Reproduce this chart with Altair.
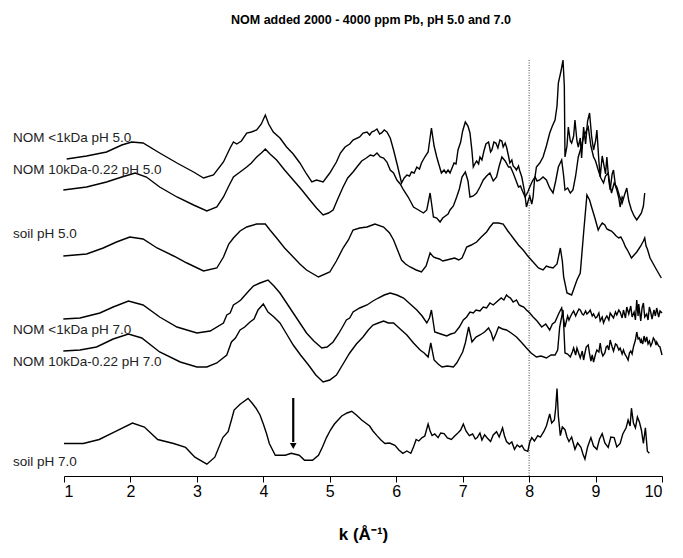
import altair as alt
import pandas as pd

# ---- data (k in 1/Å, offset chi(k) in arbitrary units) ----
nom1_ph5 = [(1.04,31.7),(1.34,32.0),(1.64,32.4),(1.87,33.1),(2.02,33.4),(2.19,33.3),(2.44,32.3),(2.70,31.3),(2.95,30.4),(3.10,29.8),(3.25,30.1),(3.40,31.4),(3.50,32.8),(3.55,33.4),(3.60,33.2),(3.67,33.5),(3.75,34.3),(3.82,34.4),(3.90,34.6),(3.97,35.2),(4.03,36.1),(4.08,35.2),(4.15,34.4),(4.25,33.8),(4.35,32.9),(4.45,32.2),(4.55,31.3),(4.65,30.2),(4.73,29.4),(4.80,29.6),(4.90,29.4),(5.00,30.3),(5.10,31.4),(5.16,32.3),(5.23,32.9),(5.30,33.2),(5.35,33.6),(5.45,33.9),(5.50,34.3),(5.56,34.4),(5.60,34.1),(5.63,34.4),(5.67,34.5),(5.71,34.7),(5.75,34.2),(5.78,34.3),(5.82,34.6),(5.86,34.4),(5.91,33.8),(5.96,32.6),(6.02,31.0),(6.08,29.3),(6.12,29.8),(6.16,30.1),(6.20,30.0),(6.23,30.4),(6.27,30.3),(6.31,30.9),(6.35,30.7),(6.38,31.3),(6.43,31.9),(6.48,32.4),(6.53,34.8),(6.57,33.0),(6.61,31.9),(6.64,31.2),(6.68,30.3),(6.72,30.6),(6.75,30.3),(6.78,30.6),(6.81,30.3),(6.87,31.3),(6.90,31.2),(6.93,32.6),(6.97,33.4),(7.00,34.5),(7.04,35.4),(7.08,35.0),(7.11,34.3),(7.14,32.5),(7.16,30.9),(7.19,31.3),(7.21,31.5),(7.24,31.2),(7.26,31.9),(7.29,31.6),(7.32,32.5),(7.35,33.2),(7.39,33.4),(7.42,32.4),(7.44,32.6),(7.47,33.4),(7.50,33.3),(7.53,32.8),(7.56,33.6),(7.59,33.5),(7.61,32.9),(7.64,33.3),(7.66,32.9),(7.69,32.0),(7.71,31.3),(7.74,31.6),(7.76,31.0),(7.79,30.8),(7.81,30.6),(7.84,31.0),(7.86,30.5),(7.89,29.9),(7.93,28.5),(7.96,26.9),(7.99,27.6),(8.01,28.0),(8.04,27.2),(8.06,27.9),(8.08,29.5),(8.11,30.9),(8.16,31.3),(8.21,31.9),(8.26,33.0),(8.31,34.3),(8.35,35.0),(8.39,35.6),(8.42,37.0),(8.44,39.3),(8.48,40.5),(8.51,41.6),(8.53,39.0),(8.54,31.9),(8.57,33.0),(8.59,34.9),(8.62,33.5),(8.64,33.3),(8.67,34.0),(8.69,35.6),(8.72,33.5),(8.74,32.9),(8.77,33.8),(8.79,31.8),(8.82,34.9),(8.85,33.2),(8.88,35.5),(8.91,36.3),(8.94,34.0),(8.97,32.6),(9.00,33.5),(9.02,34.6),(9.05,31.5),(9.07,29.9),(9.10,32.0),(9.12,31.3),(9.15,30.2),(9.17,31.9),(9.20,29.5),(9.22,28.6),(9.25,30.2),(9.27,30.6),(9.30,29.0),(9.32,28.6),(9.35,27.8),(9.37,26.9),(9.40,27.9),(9.42,27.7)]

nom10_ph5 = [(0.99,28.6),(1.34,28.9),(1.64,29.4),(1.87,29.9),(2.07,30.3),(2.24,29.9),(2.44,28.9),(2.70,27.9),(2.95,27.1),(3.15,26.5),(3.30,26.9),(3.40,27.9),(3.48,29.0),(3.55,29.9),(3.65,30.4),(3.75,30.9),(3.82,31.3),(3.90,31.9),(3.97,32.3),(4.03,32.7),(4.10,32.2),(4.20,31.6),(4.32,30.6),(4.45,29.6),(4.58,28.6),(4.70,27.6),(4.80,26.8),(4.90,26.1),(4.98,26.3),(5.05,26.6),(5.12,27.7),(5.20,28.9),(5.27,29.8),(5.35,30.4),(5.42,31.0),(5.48,31.5),(5.55,31.8),(5.61,32.1),(5.66,32.0),(5.71,32.3),(5.76,31.9),(5.81,31.8),(5.86,31.4),(5.91,30.6),(5.96,30.3),(6.01,29.6),(6.06,29.2),(6.11,28.6),(6.18,27.9),(6.26,26.9),(6.31,26.7),(6.36,26.5),(6.41,26.3),(6.46,26.6),(6.51,28.3),(6.56,25.9),(6.61,25.8),(6.66,25.4),(6.70,25.8),(6.74,26.0),(6.78,26.2),(6.81,26.6),(6.86,27.0),(6.91,27.9),(6.95,28.7),(6.99,29.9),(7.04,30.4),(7.08,29.5),(7.11,27.9),(7.16,28.0),(7.21,28.3),(7.26,28.9),(7.31,29.6),(7.36,30.0),(7.41,30.3),(7.46,29.5),(7.51,29.9),(7.55,31.0),(7.59,31.9),(7.64,31.5),(7.69,30.9),(7.72,30.9),(7.76,30.3),(7.80,29.6),(7.84,28.9),(7.87,29.0),(7.90,28.5),(7.94,27.9),(7.98,28.4),(8.01,28.9),(8.05,29.5),(8.09,29.9),(8.12,29.5),(8.16,29.6),(8.21,29.9),(8.26,29.6),(8.31,28.8),(8.36,28.3),(8.40,29.5),(8.44,30.9),(8.49,31.6),(8.52,30.0),(8.54,28.6),(8.58,28.8),(8.62,28.3),(8.66,28.6),(8.70,30.0),(8.74,31.9),(8.78,32.8),(8.82,33.9),(8.86,34.5),(8.89,34.9),(8.93,33.0),(8.97,31.9),(9.00,31.5),(9.04,30.6),(9.08,29.8),(9.12,29.3),(9.15,30.0),(9.19,30.3),(9.22,29.0),(9.24,28.3),(9.28,29.3),(9.32,28.9),(9.36,28.0),(9.40,27.3),(9.44,28.2),(9.47,28.8),(9.50,27.5),(9.54,26.6),(9.58,26.0),(9.62,25.6),(9.66,26.0),(9.69,26.3),(9.72,27.0),(9.74,28.3)]

soil_ph5 = [(0.99,22.0),(1.34,22.2),(1.59,22.8),(1.79,23.4),(1.99,23.9),(2.19,23.7),(2.40,22.8),(2.65,22.0),(2.85,21.3),(3.10,20.5),(3.30,20.8),(3.40,21.9),(3.48,23.2),(3.55,23.8),(3.65,24.5),(3.75,24.9),(3.90,25.2),(4.03,25.2),(4.10,24.6),(4.20,23.8),(4.32,22.8),(4.45,21.9),(4.55,21.2),(4.65,20.6),(4.83,19.9),(5.00,20.4),(5.10,21.5),(5.20,22.8),(5.28,23.6),(5.35,24.6),(5.45,24.8),(5.56,24.9),(5.68,25.2),(5.81,24.9),(5.90,24.3),(5.96,23.6),(6.02,22.6),(6.08,21.6),(6.14,21.2),(6.21,20.9),(6.30,20.6),(6.38,20.4),(6.45,21.0),(6.51,22.3),(6.56,21.9),(6.60,21.8),(6.65,21.7),(6.70,21.5),(6.76,21.6),(6.82,21.7),(6.88,21.8),(6.94,21.6),(6.99,21.8),(7.03,22.4),(7.06,22.9),(7.13,23.1),(7.21,23.4),(7.28,23.9),(7.36,24.4),(7.41,24.9),(7.46,25.3),(7.54,25.3),(7.61,25.2),(7.68,24.5),(7.76,23.8),(7.84,23.1),(7.91,22.6),(7.98,22.0),(8.06,21.4),(8.14,20.8),(8.21,20.6),(8.26,21.0),(8.30,20.9),(8.36,20.8),(8.42,21.2),(8.47,22.8),(8.50,21.5),(8.52,19.9),(8.57,18.3),(8.64,18.1),(8.72,19.6),(8.77,20.3),(8.82,24.3),(8.87,28.1),(8.91,27.6),(8.94,26.9),(8.99,25.8),(9.04,24.6),(9.07,25.0),(9.10,25.3),(9.14,25.1),(9.17,24.7),(9.20,24.6),(9.24,24.5),(9.27,24.3),(9.31,24.0),(9.35,23.8),(9.38,23.9),(9.42,23.4),(9.45,22.9),(9.48,22.6),(9.51,22.2),(9.54,21.8),(9.58,22.1),(9.62,22.4),(9.65,22.7),(9.68,23.0),(9.72,23.5),(9.74,23.8),(9.76,23.0),(9.78,22.7),(9.82,21.8),(9.87,21.2),(9.92,20.6),(9.99,19.8)]

nom1_ph7 = [(0.99,15.7),(1.24,15.8),(1.54,16.3),(1.74,16.9),(1.97,17.5),(2.19,17.1),(2.44,15.9),(2.70,14.9),(3.00,14.3),(3.20,14.5),(3.40,15.3),(3.45,16.1),(3.50,16.3),(3.55,17.1),(3.62,17.4),(3.66,17.6),(3.70,17.9),(3.78,18.5),(3.85,19.0),(3.95,19.3),(4.07,19.6),(4.16,19.0),(4.25,18.3),(4.35,17.3),(4.45,16.3),(4.55,15.3),(4.65,14.3),(4.76,13.5),(4.88,12.8),(4.96,12.9),(5.05,13.4),(5.13,14.2),(5.20,15.0),(5.25,15.6),(5.30,15.8),(5.35,16.4),(5.45,16.8),(5.56,17.1),(5.65,17.5),(5.73,17.8),(5.82,18.1),(5.91,18.3),(6.01,18.1),(6.11,17.8),(6.21,17.2),(6.31,16.6),(6.39,16.0),(6.46,15.3),(6.50,15.8),(6.53,16.6),(6.58,14.4),(6.67,14.2),(6.76,14.0),(6.82,14.2),(6.88,14.3),(6.95,14.9),(7.01,15.6),(7.06,15.9),(7.11,16.4),(7.16,16.3),(7.20,16.6),(7.26,16.5),(7.31,16.9),(7.36,16.8),(7.41,17.3),(7.46,17.1),(7.51,17.4),(7.58,17.8),(7.62,17.6),(7.66,18.1),(7.69,17.9),(7.72,17.8),(7.76,17.4),(7.81,17.6),(7.85,17.1),(7.88,17.0),(7.92,16.9),(7.96,16.6),(8.01,16.3),(8.06,15.9),(8.12,15.5),(8.19,14.9),(8.25,15.2),(8.31,14.6),(8.35,15.2),(8.39,15.4),(8.45,16.3),(8.49,16.8),(8.52,15.6),(8.54,14.9),(8.58,16.0),(8.60,15.6),(8.62,15.9),(8.65,16.3),(8.67,16.5),(8.70,16.0),(8.72,16.3),(8.75,16.7),(8.77,16.6),(8.80,16.2),(8.82,16.1),(8.85,16.5),(8.87,16.2),(8.90,16.4),(8.92,16.6),(8.95,16.0),(8.97,16.2),(9.00,15.8),(9.02,15.9),(9.05,16.3),(9.07,15.5),(9.10,15.9),(9.12,15.3),(9.15,15.8),(9.17,16.0),(9.20,15.6),(9.22,16.3),(9.25,16.0),(9.27,15.8),(9.30,16.4),(9.32,16.1),(9.35,16.6),(9.37,16.4),(9.40,15.8),(9.42,16.6),(9.45,15.8),(9.47,16.9),(9.50,16.2),(9.53,17.0),(9.55,15.9),(9.58,16.4),(9.60,15.6),(9.62,17.6),(9.64,16.0),(9.65,17.2),(9.68,15.5),(9.70,16.8),(9.72,17.3),(9.74,15.9),(9.77,16.2),(9.79,15.6),(9.81,16.9),(9.83,16.4),(9.85,15.7),(9.88,16.6),(9.90,16.0),(9.92,16.8),(9.95,15.9),(9.97,16.5),(10.0,16.3)]

nom10_ph7 = [(0.99,12.5),(1.24,12.6),(1.49,12.9),(1.74,13.7),(1.97,14.2),(2.17,13.8),(2.44,12.4),(2.75,11.4),(3.00,10.9),(3.15,10.9),(3.30,11.3),(3.45,12.1),(3.52,13.4),(3.58,13.8),(3.65,14.6),(3.72,14.9),(3.80,15.4),(3.86,15.7),(3.92,16.6),(4.00,17.2),(4.07,16.4),(4.16,15.9),(4.25,15.3),(4.35,14.2),(4.45,13.1),(4.56,12.1),(4.68,11.1),(4.79,10.1),(4.90,9.4),(5.00,9.6),(5.10,10.1),(5.20,11.2),(5.30,12.3),(5.40,13.2),(5.50,13.9),(5.58,14.6),(5.65,15.1),(5.73,15.3),(5.81,15.5),(5.88,15.3),(5.96,15.3),(6.06,14.7),(6.16,14.1),(6.26,13.3),(6.36,12.6),(6.42,12.3),(6.48,11.9),(6.52,13.3),(6.57,11.6),(6.63,11.2),(6.69,10.9),(6.77,11.0),(6.86,10.9),(6.91,11.3),(6.96,11.9),(7.00,12.4),(7.04,13.3),(7.09,14.9),(7.14,13.4),(7.20,13.9),(7.26,14.1),(7.33,14.4),(7.39,14.8),(7.43,14.3),(7.46,13.6),(7.50,14.2),(7.54,14.9),(7.60,14.7),(7.66,14.6),(7.73,14.3),(7.81,13.9),(7.88,13.4),(7.96,12.8),(8.03,12.3),(8.11,11.9),(8.18,12.0),(8.26,11.8),(8.33,12.1),(8.39,12.1),(8.43,12.6),(8.46,14.9),(8.51,16.6),(8.54,12.3),(8.58,12.2),(8.62,11.9),(8.65,12.4),(8.67,12.8),(8.70,12.1),(8.72,12.8),(8.75,12.2),(8.77,11.8),(8.80,12.5),(8.82,11.6),(8.84,12.3),(8.86,12.9),(8.89,13.1),(8.91,12.2),(8.93,11.5),(8.95,12.1),(8.97,11.4),(9.00,12.2),(9.02,12.6),(9.05,12.4),(9.07,13.3),(9.09,12.4),(9.11,12.0),(9.14,12.3),(9.16,12.9),(9.18,13.0),(9.20,12.6),(9.22,13.6),(9.25,12.9),(9.27,12.5),(9.30,13.2),(9.32,13.1),(9.35,12.6),(9.37,12.8),(9.40,12.2),(9.42,12.6),(9.44,12.2),(9.46,12.0),(9.49,11.6),(9.51,12.3),(9.53,12.5),(9.55,12.2),(9.57,12.9),(9.60,13.6),(9.62,14.4),(9.64,13.7),(9.66,13.8),(9.68,13.3),(9.69,13.6),(9.71,13.2),(9.73,14.0),(9.75,13.4),(9.77,13.9),(9.79,13.2),(9.81,13.5),(9.83,13.0),(9.85,13.3),(9.87,13.8),(9.89,13.6),(9.91,13.1),(9.92,13.4),(9.95,13.0),(9.97,12.9),(10.0,12.1)]

soil_ph7 = [(1.0,3.25),(1.29,3.25),(1.53,3.65),(1.77,4.43),(2.03,5.3),(2.21,4.9),(2.41,3.65),(2.65,3.25),(2.83,2.86),(2.97,1.88),(3.15,1.18),(3.27,1.88),(3.39,3.84),(3.47,4.43),(3.52,5.6),(3.56,6.6),(3.65,7.18),(3.77,7.76),(3.83,7.3),(3.89,6.78),(3.95,6.1),(4.0,5.2),(4.05,4.2),(4.09,3.25),(4.18,2.08),(4.33,2.08),(4.42,2.27),(4.54,2.08),(4.62,1.57),(4.74,1.57),(4.83,2.08),(4.89,2.9),(4.95,3.84),(5.01,4.6),(5.07,5.2),(5.18,6.0),(5.26,6.3),(5.33,6.47),(5.40,6.1),(5.48,5.6),(5.54,5.3),(5.6,5.0),(5.65,4.5),(5.71,4.04),(5.77,3.6),(5.83,3.25),(5.90,3.3),(5.98,3.06),(6.04,2.6),(6.1,2.27),(6.16,2.5),(6.22,2.27),(6.26,2.9),(6.3,3.65),(6.34,3.5),(6.39,3.84),(6.43,4.0),(6.48,5.2),(6.51,4.5),(6.54,4.04),(6.58,4.2),(6.63,3.84),(6.67,4.3),(6.72,4.24),(6.77,3.8),(6.83,3.65),(6.88,4.0),(6.92,4.24),(6.97,4.6),(7.01,5.2),(7.05,4.5),(7.1,4.04),(7.15,4.2),(7.19,3.7),(7.22,3.84),(7.26,4.3),(7.29,3.6),(7.33,4.12),(7.37,3.8),(7.42,3.45),(7.46,4.1),(7.51,4.43),(7.55,3.9),(7.6,4.82),(7.63,4.0),(7.66,3.45),(7.70,3.2),(7.74,3.4),(7.78,2.67),(7.82,3.1),(7.86,2.9),(7.89,3.06),(7.93,2.6),(7.98,2.47),(8.01,3.4),(8.04,3.84),(8.08,3.5),(8.13,4.04),(8.17,3.9),(8.22,4.43),(8.26,5.0),(8.31,6.2),(8.34,5.3),(8.38,5.6),(8.40,6.8),(8.42,8.75),(8.44,6.0),(8.47,4.04),(8.50,4.9),(8.54,4.63),(8.57,3.9),(8.6,3.45),(8.64,3.9),(8.69,2.67),(8.73,3.3),(8.78,2.86),(8.81,2.2),(8.84,1.69),(8.88,2.9),(8.93,3.84),(8.97,3.0),(9.02,2.67),(9.06,3.7),(9.1,4.24),(9.14,3.3),(9.19,2.86),(9.23,3.9),(9.28,3.84),(9.32,2.9),(9.37,3.25),(9.41,4.2),(9.46,4.82),(9.49,5.6),(9.52,5.0),(9.54,6.78),(9.57,5.3),(9.6,4.82),(9.63,5.9),(9.66,5.4),(9.69,4.6),(9.72,3.25),(9.75,4.82),(9.78,2.47),(9.81,2.27)]

series_names = ["NOM <1kDa pH 5.0", "NOM 10kDa-0.22 pH 5.0", "soil pH 5.0",
                "NOM <1kDa pH 7.0", "NOM 10kDa-0.22 pH 7.0", "soil pH 7.0"]
series_data = [nom1_ph5, nom10_ph5, soil_ph5, nom1_ph7, nom10_ph7, soil_ph7]
label_levels = [33.8, 30.6, 24.2, 14.6, 11.4, 1.4]

k_ticks = [1, 2, 3, 4, 5, 6, 7, 8, 9, 10]
marker_k = 8.0
marker_top = 41.6
arrow_k = 4.45
arrow_top = 7.8
arrow_bottom = 3.0

rows = []
for name, pts in zip(series_names, series_data):
    for i, (k, v) in enumerate(pts):
        rows.append({"series": name, "k": k, "v": v, "i": i})
df = pd.DataFrame(rows)
labels_df = pd.DataFrame({"series": series_names, "v": label_levels})

xscale = alt.Scale(domain=[1, 10], nice=False, zero=False)
yscale = alt.Scale(domain=[0, 42], nice=False, zero=False)
xaxis = alt.Axis(title="k (Å⁻¹)", values=k_ticks, grid=False, format="d",
                 domainColor="black", tickColor="black", tickSize=6,
                 labelFontSize=16, labelColor="black", labelPadding=1,
                 labelFont="Liberation Sans", titleFont="Liberation Sans",
                 titleFontSize=17, titleFontWeight="bold", titleColor="black",
                 titlePadding=27)

lines = alt.Chart(df).mark_line(color="black", strokeWidth=1.4).encode(
    x=alt.X("k:Q", scale=xscale, axis=xaxis),
    y=alt.Y("v:Q", scale=yscale, axis=None),
    detail="series:N",
    order="i:Q",
)

labels = alt.Chart(labels_df).mark_text(
    align="left", baseline="middle", fontSize=13.5, font="Liberation Sans", color="#222222"
).encode(
    x=alt.value(-51),
    y=alt.Y("v:Q", scale=yscale, axis=None),
    text="series:N",
)

marker_df = pd.DataFrame({"k": [marker_k], "y0": [0.0], "y1": [marker_top]})
marker = alt.Chart(marker_df).mark_rule(color="#444444", strokeWidth=1, strokeDash=[1, 1.5]).encode(
    x=alt.X("k:Q", scale=xscale, axis=xaxis),
    y=alt.Y("y0:Q", scale=yscale, axis=None),
    y2="y1:Q",
)

arrow_df = pd.DataFrame({"k": [arrow_k], "y0": [arrow_bottom + 0.4], "y1": [arrow_top], "tip": [arrow_bottom]})
arrow_shaft = alt.Chart(arrow_df).mark_rule(color="black", strokeWidth=2.2).encode(
    x=alt.X("k:Q", scale=xscale, axis=xaxis),
    y=alt.Y("y0:Q", scale=yscale, axis=None),
    y2="y1:Q",
)
arrow_head = alt.Chart(arrow_df).mark_point(shape="triangle-down", filled=True, color="black",
                                            size=45, opacity=1).encode(
    x=alt.X("k:Q", scale=xscale, axis=xaxis),
    y=alt.Y("tip:Q", scale=yscale, axis=None),
)

chart = alt.layer(marker, lines, labels, arrow_shaft, arrow_head).properties(
    width=598, height=420,
    title=alt.TitleParams("NOM added 2000 - 4000 ppm Pb, pH 5.0 and 7.0", fontSize=12.5,
                          fontWeight="bold", font="Liberation Sans", color="black",
                          anchor="middle", dx=8, offset=30),
).configure_view(stroke=None)

chart.save("out.html", embed_options={"renderer": "svg", "actions": False})
